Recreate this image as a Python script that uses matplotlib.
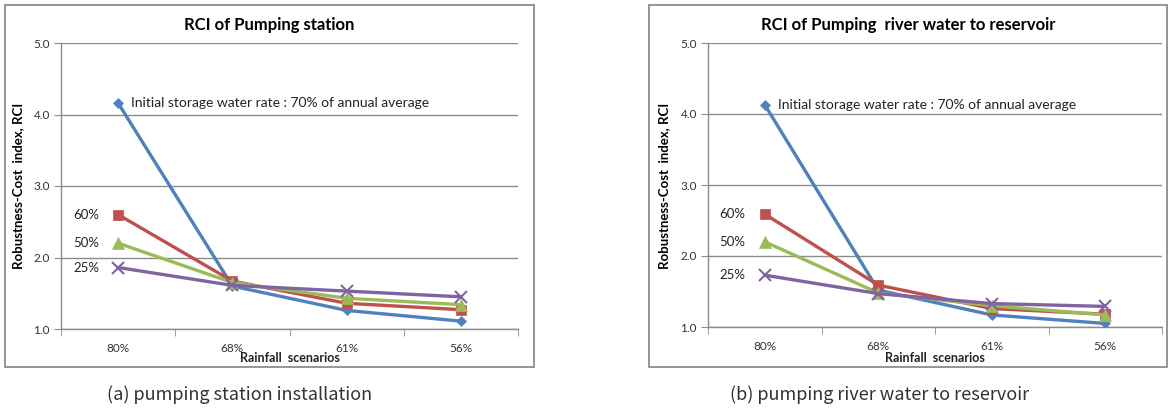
import matplotlib
matplotlib.use('Agg')
import matplotlib.pyplot as plt
from matplotlib.patches import Rectangle

plt.rcParams['font.family'] = ['Lato', 'DejaVu Sans']

scenarios = ['80%', '68%', '61%', '56%']
series_names = ['70%', '60%', '50%', '25%']

# (a) pumping station installation
rci_a_70 = [4.16, 1.60, 1.26, 1.11]
rci_a_60 = [2.60, 1.67, 1.36, 1.27]
rci_a_50 = [2.20, 1.65, 1.43, 1.34]
rci_a_25 = [1.86, 1.61, 1.53, 1.45]

# (b) pumping river water to reservoir
rci_b_70 = [4.13, 1.52, 1.17, 1.05]
rci_b_60 = [2.59, 1.59, 1.26, 1.18]
rci_b_50 = [2.20, 1.48, 1.30, 1.17]
rci_b_25 = [1.73, 1.47, 1.33, 1.29]

titles = ['RCI of Pumping station', 'RCI of Pumping  river water to reservoir']
captions = ['(a) pumping station installation', '(b) pumping river water to reservoir']
note = 'Initial storage water rate : 70% of annual average'

colors = ['#4F81BD', '#C0504D', '#9BBB59', '#8064A2']
markers = ['D', 's', '^', 'x']
msizes = [5, 7, 8, 8]

W, H = 1170, 408
fig = plt.figure(figsize=(W / 100, H / 100), dpi=100)


def fx(px):
    return px / W


def fy(py):
    return 1 - py / H


panels = [
    dict(frame=(5, 5, 534, 367), ax=(61, 43, 518, 329), data=[rci_a_70, rci_a_60, rci_a_50, rci_a_25],
         caption_x=240, ylab_x=18),
    dict(frame=(649, 5, 1167, 367), ax=(708, 43, 1162, 327), data=[rci_b_70, rci_b_60, rci_b_50, rci_b_25],
         caption_x=880, ylab_x=664),
]

for k, p in enumerate(panels):
    l, t, r, b = p['frame']
    fig.patches.append(Rectangle((fx(l), fy(b)), fx(r - l), (b - t) / H, transform=fig.transFigure,
                                 fill=False, edgecolor='#8c8c8c', lw=1.3))
    al, at, ar, ab = p['ax']
    ax = fig.add_axes([fx(al), fy(ab), fx(ar - al), (ab - at) / H])
    x = list(range(len(scenarios)))
    for vals, c, m, ms in zip(p['data'], colors, markers, msizes):
        ax.plot(x, vals, color=c, lw=2.4, marker=m, ms=ms, mew=1.5 if m == 'x' else 0.5,
                mec=c, mfc=c, zorder=3)
    ax.set_xlim(-0.5, 3.5)
    ax.set_ylim(1.0, 5.0)
    ax.set_yticks([1.0, 2.0, 3.0, 4.0, 5.0])
    ax.set_yticklabels(['1.0', '2.0', '3.0', '4.0', '5.0'])
    ax.set_xticks(x)
    ax.set_xticklabels(scenarios)
    ax.set_xticks([-0.5, 0.5, 1.5, 2.5, 3.5], minor=True)
    ax.tick_params(axis='x', which='major', length=0, pad=10, labelsize=8.5, labelcolor='#333333')
    ax.tick_params(axis='x', which='minor', length=5, color='#8c8c8c', direction='out')
    ax.tick_params(axis='y', length=5, color='#8c8c8c', direction='out', labelsize=8.5,
                   labelcolor='#333333', pad=3)
    ax.grid(axis='y', color='#8c8c8c', lw=1)
    ax.set_axisbelow(True)
    for s in ['top', 'right']:
        ax.spines[s].set_visible(False)
    for s in ['left', 'bottom']:
        ax.spines[s].set_color('#8c8c8c')
        ax.spines[s].set_linewidth(1)

    fig.text(fx((l + r) / 2), fy(25), titles[k], ha='center', va='center', fontsize=12, fontweight='bold')
    fig.text(fx(p['ylab_x']), fy(186), 'Robustness-Cost  index, RCI', rotation=90, ha='center', va='center',
             fontsize=9.5, fontweight='bold')
    fig.text(fx((al + ar) / 2), fy(358), 'Rainfall  scenarios', ha='center', va='center', fontsize=9,
             fontweight='bold', color='#222222')
    fig.text(fx(p['caption_x']), fy(395), captions[k], ha='center', va='center', fontsize=13,
             color='#333333', family=['Noto Sans CJK KR', 'DejaVu Sans'])

    ax.annotate(note, (0, p['data'][0][0]), xytext=(13, 0), textcoords='offset pixels',
                ha='left', va='center', fontsize=10, color='#222222')
    for vals, name in zip(p['data'][1:], series_names[1:]):
        ax.annotate(name, (0, vals[0]), xytext=(-19, 0), textcoords='offset pixels',
                    ha='right', va='center', fontsize=9.5, color='#222222')

fig.savefig('out.png', dpi=100)
